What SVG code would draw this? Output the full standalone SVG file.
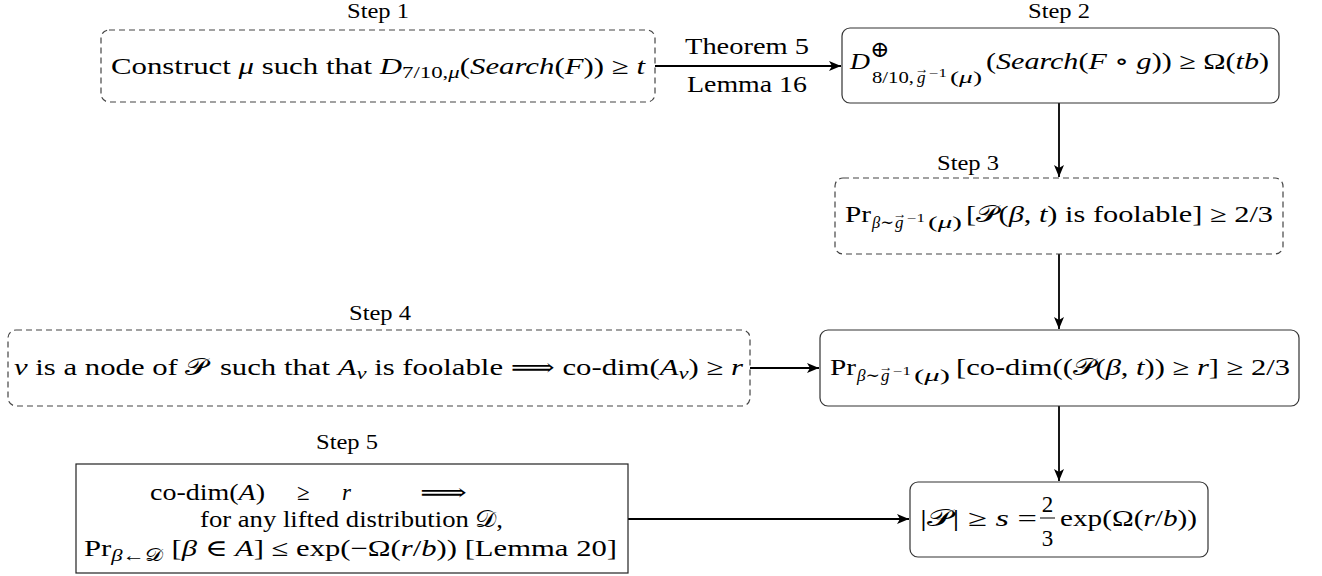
<svg xmlns="http://www.w3.org/2000/svg" width="1322" height="576" viewBox="0 0 1322 576">
<style>
text{font-family:"Liberation Serif","DejaVu Serif",serif;fill:#000;font-size:23px}
.lbl{font-size:20px}
.it{font-style:italic}
.sub{font-size:17px}
.sup{font-size:12px}
.vec{font-size:12px}
.box{fill:#fff;stroke:#333;stroke-width:1.2}
.dash{fill:#fff;stroke:#444;stroke-width:1.2;stroke-dasharray:6 4}
.conn{fill:none;stroke:#000;stroke-width:1.8}
</style>
<defs>
<marker id="ah" markerUnits="userSpaceOnUse" markerWidth="14" markerHeight="12" refX="12" refY="6" orient="auto">
<path d="M0,1 L12,6 L0,11 L3,6 z" fill="#000"/>
</marker>
</defs>

<g id="connectors">
<path class="conn" d="M655,66 H841" marker-end="url(#ah)"/>
<path class="conn" d="M1059,103 V177" marker-end="url(#ah)"/>
<path class="conn" d="M1059,254 V329" marker-end="url(#ah)"/>
<path class="conn" d="M750,368 H819" marker-end="url(#ah)"/>
<path class="conn" d="M1059,406 V481" marker-end="url(#ah)"/>
<path class="conn" d="M628,519 H909" marker-end="url(#ah)"/>
<text x="747" y="54" text-anchor="middle" textLength="124" lengthAdjust="spacingAndGlyphs">Theorem 5</text>
<text x="747" y="92" text-anchor="middle" textLength="120" lengthAdjust="spacingAndGlyphs">Lemma 16</text>
</g>

<g id="step1">
<text class="lbl" x="378" y="18" text-anchor="middle" textLength="62" lengthAdjust="spacingAndGlyphs">Step 1</text>
<rect class="dash" x="101" y="30" width="554" height="72" rx="8"/>
<text x="111" y="74" textLength="534" lengthAdjust="spacingAndGlyphs">Construct <tspan class="it">μ</tspan> such that <tspan class="it">D</tspan><tspan class="sub" dy="4">7/10,</tspan><tspan class="sub it">μ</tspan><tspan dy="-4">(</tspan><tspan class="it">Search</tspan>(<tspan class="it">F</tspan>)) ≥ <tspan class="it">t</tspan></text>
</g>

<g id="step2">
<text class="lbl" x="1059" y="18" text-anchor="middle" textLength="62" lengthAdjust="spacingAndGlyphs">Step 2</text>
<rect class="box" x="842" y="28" width="437" height="75" rx="8"/>
<text class="it" x="850" y="69" font-size="25" textLength="20" lengthAdjust="spacingAndGlyphs">D</text>
<text x="870" y="57" font-size="15">⊕</text>
<text class="sub" x="872" y="83" textLength="42" lengthAdjust="spacingAndGlyphs">8/10,</text>
<text class="sub it" x="917" y="83">g</text>
<text class="vec" x="915" y="73" textLength="14" lengthAdjust="spacingAndGlyphs">→</text>
<text class="sup" x="929" y="77" textLength="18" lengthAdjust="spacingAndGlyphs">−1</text>
<text class="sub" x="950" y="83" textLength="32" lengthAdjust="spacingAndGlyphs">(<tspan class="it">μ</tspan>)</text>
<text x="986" y="69" textLength="283" lengthAdjust="spacingAndGlyphs">(<tspan class="it">Search</tspan>(<tspan class="it">F</tspan> ∘ <tspan class="it">g</tspan>)) ≥ Ω(<tspan class="it">tb</tspan>)</text>
</g>

<g id="step3">
<text class="lbl" x="968" y="170" text-anchor="middle" textLength="62" lengthAdjust="spacingAndGlyphs">Step 3</text>
<rect class="dash" x="835" y="178" width="448" height="76" rx="8"/>
<text x="845" y="222" textLength="26" lengthAdjust="spacingAndGlyphs">Pr</text>
<text class="sub" x="872" y="228" textLength="22" lengthAdjust="spacingAndGlyphs"><tspan class="it">β</tspan>∼</text>
<text class="sub it" x="895" y="228">g</text>
<text class="vec" x="893" y="218" textLength="14" lengthAdjust="spacingAndGlyphs">→</text>
<text class="sup" x="907" y="222" textLength="18" lengthAdjust="spacingAndGlyphs">−1</text>
<text class="sub" x="928" y="228" textLength="34" lengthAdjust="spacingAndGlyphs">(<tspan class="it">μ</tspan>)</text>
<text x="966" y="222" textLength="307" lengthAdjust="spacingAndGlyphs">[𝒫(<tspan class="it">β</tspan>, <tspan class="it">t</tspan>) is foolable] ≥ 2/3</text>
</g>

<g id="step4">
<text class="lbl" x="380" y="320" text-anchor="middle" textLength="62" lengthAdjust="spacingAndGlyphs">Step 4</text>
<rect class="dash" x="8" y="330" width="742" height="76" rx="8"/>
<text x="14" y="375" textLength="729" lengthAdjust="spacingAndGlyphs"><tspan class="it">v</tspan> is a node of 𝒫<tspan dx="3"> such that </tspan><tspan class="it">A</tspan><tspan class="sub it" dy="4">v</tspan><tspan dy="-4"> is foolable ⟹ co-dim(</tspan><tspan class="it">A</tspan><tspan class="sub it" dy="4">v</tspan><tspan dy="-4">) ≥ </tspan><tspan class="it">r</tspan></text>
</g>

<g id="step4result">
<rect class="box" x="820" y="330" width="479" height="76" rx="8"/>
<text x="830" y="375" textLength="26" lengthAdjust="spacingAndGlyphs">Pr</text>
<text class="sub" x="857" y="381" textLength="23" lengthAdjust="spacingAndGlyphs"><tspan class="it">β</tspan>∼</text>
<text class="sub it" x="881" y="381">g</text>
<text class="vec" x="879" y="371" textLength="14" lengthAdjust="spacingAndGlyphs">→</text>
<text class="sup" x="893" y="375" textLength="18" lengthAdjust="spacingAndGlyphs">−1</text>
<text class="sub" x="914" y="381" textLength="36" lengthAdjust="spacingAndGlyphs">(<tspan class="it">μ</tspan>)</text>
<text x="956" y="375" textLength="334" lengthAdjust="spacingAndGlyphs">[co-dim((𝒫(<tspan class="it">β</tspan>, <tspan class="it">t</tspan>)) ≥ <tspan class="it">r</tspan>] ≥ 2/3</text>
</g>

<g id="step5">
<text class="lbl" x="347" y="449" text-anchor="middle" textLength="62" lengthAdjust="spacingAndGlyphs">Step 5</text>
<rect x="76" y="464" width="552" height="109" fill="#fff" stroke="#222" stroke-width="1.2"/>
<text x="150" y="500" textLength="115" lengthAdjust="spacingAndGlyphs">co-dim(<tspan class="it">A</tspan>)</text>
<text x="297" y="500">≥</text>
<text class="it" x="342" y="500">r</text>
<text x="420" y="500" textLength="47" lengthAdjust="spacingAndGlyphs">⟹</text>
<text x="200" y="527" textLength="303" lengthAdjust="spacingAndGlyphs">for any lifted distribution 𝒟,</text>
<text x="84" y="556" textLength="533" lengthAdjust="spacingAndGlyphs">Pr<tspan class="sub" dy="5"><tspan class="it">β</tspan>←𝒟</tspan><tspan dy="-5"> [</tspan><tspan class="it">β</tspan> ∈ <tspan class="it">A</tspan>] ≤ exp(−Ω(<tspan class="it">r</tspan>/<tspan class="it">b</tspan>)) [Lemma 20]</text>
</g>

<g id="final">
<rect class="box" x="910" y="482" width="298" height="75" rx="8"/>
<text x="920" y="526" textLength="117" lengthAdjust="spacingAndGlyphs">|𝒫| ≥ <tspan class="it">s</tspan> =</text>
<text x="1047.5" y="512" text-anchor="middle">2</text>
<line x1="1040" y1="518" x2="1055" y2="518" stroke="#000" stroke-width="1"/>
<text x="1047.5" y="546" text-anchor="middle">3</text>
<text x="1060" y="526" textLength="137" lengthAdjust="spacingAndGlyphs">exp(Ω(<tspan class="it">r</tspan>/<tspan class="it">b</tspan>))</text>
</g>
</svg>
